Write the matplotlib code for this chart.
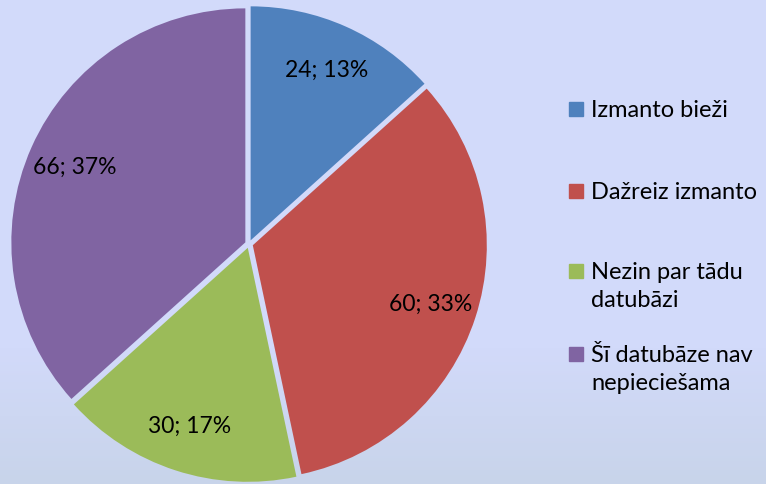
import numpy as np
import matplotlib.pyplot as plt
from matplotlib.patches import Rectangle

# data
labels = ['Izmanto bieži', 'Dažreiz izmanto', 'Nezin par tādu\ndatubāzi', 'Šī datubāze nav\nnepieciešama']
values = [24, 60, 30, 66]
colors = ['#4F81BD', '#C0504D', '#9BBB59', '#8064A2']

total = sum(values)

fig = plt.figure(figsize=(7.66, 4.85), dpi=100)
ax = fig.add_axes([0, 0, 1, 1])

# background: flat lavender, slightly greyer toward the bottom
top = np.array([210, 218, 250]) / 255
bot = np.array([200, 212, 234]) / 255
t = np.clip((np.linspace(0, 1, 485) - 0.72) / 0.28, 0, 1)[:, None]
grad = top * (1 - t) + bot * t
ax.imshow(np.repeat(grad[:, None, :], 2, axis=1), extent=(0, 766, 0, 485),
          aspect='auto', zorder=0, origin='upper')

def fmt(pct):
    v = int(round(pct * total / 100))
    return '%d; %d%%' % (v, round(pct))

# explode is in data units here (pixels)
wedges, texts, autotexts = ax.pie(
    values, colors=colors, startangle=90, counterclock=False,
    center=(249, 240), radius=234, explode=[4] * 4,
    autopct=fmt, pctdistance=0.8, frame=True,
    textprops={'fontsize': 16.5, 'family': 'Lato', 'color': 'black'})
for w in wedges:
    w.set_zorder(2)
for a in autotexts:
    a.set_zorder(3)
ax.set_xlim(0, 766)
ax.set_ylim(0, 485)
ax.set_aspect('equal')
ax.axis('off')

# legend drawn by hand (Excel style spacing)
leg_y = [375, 293, 213, 130]   # centre of first line of each entry
for lab, col, y in zip(labels, colors, leg_y):
    ax.add_patch(Rectangle((569, y - 7), 14, 14, color=col, zorder=3))
    for i, line in enumerate(lab.split('\n')):
        ax.text(591, y - 7 - 28 * i, line, fontsize=17, family='Lato',
                va='baseline', ha='left', zorder=3)

fig.savefig('out.png', dpi=100)
